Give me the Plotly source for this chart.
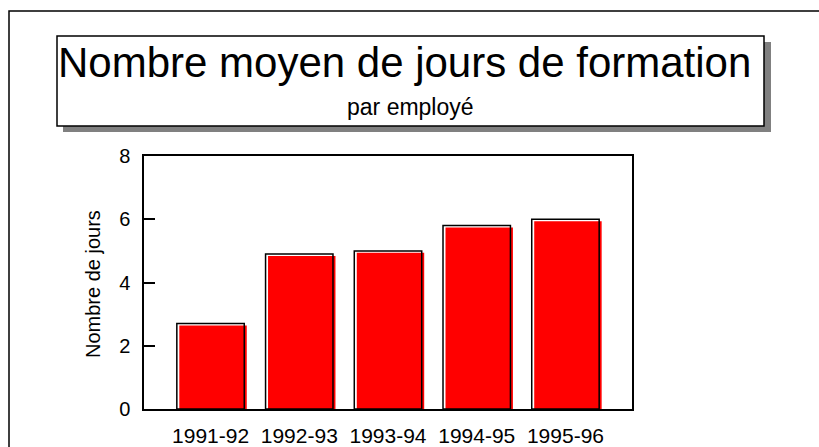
import plotly.graph_objects as go

categories = ["1991-92", "1992-93", "1993-94", "1994-95", "1995-96"]
values = [2.7, 4.9, 5.0, 5.8, 6.0]
y_ticks = [0, 2, 4, 6, 8]

title_text = "Nombre moyen de jours de formation"
subtitle_text = "par employé"
y_title = "Nombre de jours"

W, H = 819, 447
L, R, T, B = 144, 632, 156, 409  # plot area in pixels

FONT = "Liberation Sans, Arial, Helvetica, sans-serif"


def px(x):
    return (x - L) / (R - L)


def py(y):
    return (B - y) / (B - T)


fig = go.Figure()

# red fill, slightly offset (shadow-like look of the original)
fig.add_trace(go.Bar(
    x=categories, y=values,
    width=0.76, offset=-0.38 + 0.028, base=-0.06,
    marker=dict(color="#ff0000", line=dict(width=0)),
    hoverinfo="skip", showlegend=False,
))
# black outline
fig.add_trace(go.Bar(
    x=categories, y=values,
    width=0.76, offset=-0.38,
    marker=dict(color="rgba(0,0,0,0)", line=dict(color="black", width=1.5)),
    showlegend=False,
))

shapes = [
    # outer frame
    dict(type="rect", xref="paper", yref="paper",
         x0=px(9), x1=px(840), y0=py(11), y1=py(470),
         line=dict(color="black", width=1.5), fillcolor="rgba(0,0,0,0)"),
    # title shadow
    dict(type="rect", xref="paper", yref="paper",
         x0=px(63), x1=px(771), y0=py(42), y1=py(132),
         line=dict(width=0), fillcolor="#808080"),
    # title box
    dict(type="rect", xref="paper", yref="paper",
         x0=px(57), x1=px(764), y0=py(36), y1=py(126),
         line=dict(color="black", width=1.5), fillcolor="white"),
]

annotations = [
    dict(text=title_text, xref="paper", yref="paper",
         x=px(404), y=py(63), xanchor="center", yanchor="middle",
         showarrow=False, font=dict(family=FONT, size=42, color="black")),
    dict(text=subtitle_text, xref="paper", yref="paper",
         x=px(410), y=py(107), xanchor="center", yanchor="middle",
         showarrow=False, font=dict(family=FONT, size=23, color="black")),
    dict(text=y_title, xref="paper", yref="paper",
         x=px(93), y=py(284), xanchor="center", yanchor="middle",
         textangle=-90, showarrow=False,
         font=dict(family=FONT, size=20, color="black")),
]

fig.update_layout(
    width=W, height=H,
    margin=dict(l=L, r=W - R, t=T, b=H - B, pad=0),
    paper_bgcolor="white", plot_bgcolor="white",
    barmode="overlay",
    shapes=shapes, annotations=annotations,
    font=dict(family=FONT, size=20, color="black"),
    xaxis=dict(
        type="category", range=[-0.75, 4.75],
        showline=True, linecolor="black", linewidth=1.5, mirror=True,
        ticks="", showgrid=False, zeroline=False,
        tickfont=dict(family=FONT, size=21, color="black"),
        ticklabelstandoff=7, automargin=False,
        fixedrange=True,
    ),
    yaxis=dict(
        range=[0, 8], tickvals=y_ticks, ticktext=[str(v) for v in y_ticks],
        showline=True, linecolor="black", linewidth=1.5, mirror=True,
        ticks="inside", ticklen=11, tickwidth=1.5, tickcolor="black",
        showgrid=False, zeroline=False,
        tickfont=dict(family=FONT, size=20, color="black"),
        ticklabelstandoff=8, automargin=False,
        fixedrange=True,
    ),
)

fig.write_html(
    "out.html",
    config={"displayModeBar": False},
    post_script="document.body.style.margin='0';document.body.style.overflow='hidden';",
)
